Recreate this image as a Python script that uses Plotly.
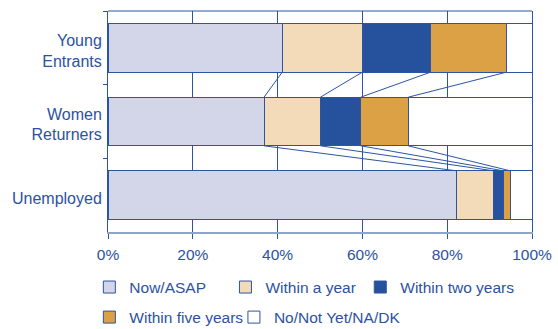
import plotly.graph_objects as go

categories = ["Young<br>Entrants", "Women<br>Returners", "Unemployed"]
series_names = ["Now/ASAP", "Within a year", "Within two years",
                "Within five years", "No/Not Yet/NA/DK"]
now_asap = [41.1, 36.8, 82.3]
within_year = [18.9, 13.3, 8.7]
within_two = [16.1, 9.5, 2.3]
within_five = [17.9, 11.2, 1.6]
not_yet = [6.0, 29.2, 5.1]
x_ticks = [0, 20, 40, 60, 80, 100]
x_tick_labels = ["0%", "20%", "40%", "60%", "80%", "100%"]

series_values = [now_asap, within_year, within_two, within_five, not_yet]
colors = ["#d3d5e9", "#f3dab8", "#26519c", "#dca045", "#ffffff"]
legend_ids = ["legend", "legend2", "legend3", "legend4", "legend5"]
# legend entry placement (paper coords)
legend_pos = [(-0.044, -0.251), (0.277, -0.251), (0.595, -0.251),
              (-0.044, -0.387), (0.297, -0.387)]
BLUE = "#2b55a2"
TEXT = "#2c52a0"
BAR_W = 0.66

fig = go.Figure()
for name, vals, col, lg in zip(series_names, series_values, colors, legend_ids):
    fig.add_trace(go.Bar(
        y=categories, x=vals, name=name, orientation="h",
        width=BAR_W, marker=dict(color=col, line=dict(color=BLUE, width=1)),
        legend=lg, yaxis="y",
    ))

# connector (series) lines between adjacent bars
cum = []
for i in range(len(categories)):
    c, s = [], 0
    for vals in series_values[:-1]:
        s += vals[i]
        c.append(s)
    cum.append(c)
for i in range(len(categories) - 1):
    for k in range(len(cum[i])):
        fig.add_trace(go.Scatter(
            x=[cum[i][k], cum[i + 1][k]],
            y=[i + BAR_W / 2, i + 1 - BAR_W / 2],
            mode="lines", line=dict(color=BLUE, width=1),
            showlegend=False, hoverinfo="skip", yaxis="y2",
        ))

legend_layouts = {}
for lg, (lx, ly) in zip(legend_ids, legend_pos):
    legend_layouts[lg] = dict(orientation="h", x=lx, xanchor="left", y=ly,
                              yanchor="middle", font=dict(size=15.5, color=TEXT),
                              bgcolor="rgba(0,0,0,0)")

fig.update_layout(
    width=558, height=329,
    margin=dict(l=108, r=26, t=11, b=97, autoexpand=False),
    barmode="stack", bargap=0.34,
    plot_bgcolor="white", paper_bgcolor="white",
    font=dict(family="Liberation Sans, Arial, sans-serif", size=15.5, color=TEXT),
    xaxis=dict(range=[0, 100], tickvals=x_ticks, ticktext=x_tick_labels,
               showgrid=True, gridcolor=BLUE, gridwidth=1,
               showline=True, linecolor="#8ea3cd", linewidth=2,
               ticks="outside", ticklen=5, tickcolor=BLUE, tickwidth=1,
               ticklabelstandoff=2, zeroline=False, fixedrange=True,
               tickfont=dict(size=15.5)),
    yaxis=dict(type="category", categoryorder="array", categoryarray=categories,
               range=[2.5, -0.5], showline=True, linecolor=BLUE, linewidth=1,
               mirror=True, ticks="outside", ticklen=4, tickcolor=BLUE,
               tickson="boundaries", showgrid=False, zeroline=False,
               ticklabelstandoff=2, ticklabelshift=-3,
               tickfont=dict(size=16)),
    yaxis2=dict(overlaying="y", range=[2.5, -0.5], visible=False),
    shapes=[dict(type="line", xref="paper", yref="paper", x0=0, x1=1, y0=1, y1=1,
                 line=dict(color=BLUE, width=1))],
    **legend_layouts,
)

fig.write_html("out.html")
